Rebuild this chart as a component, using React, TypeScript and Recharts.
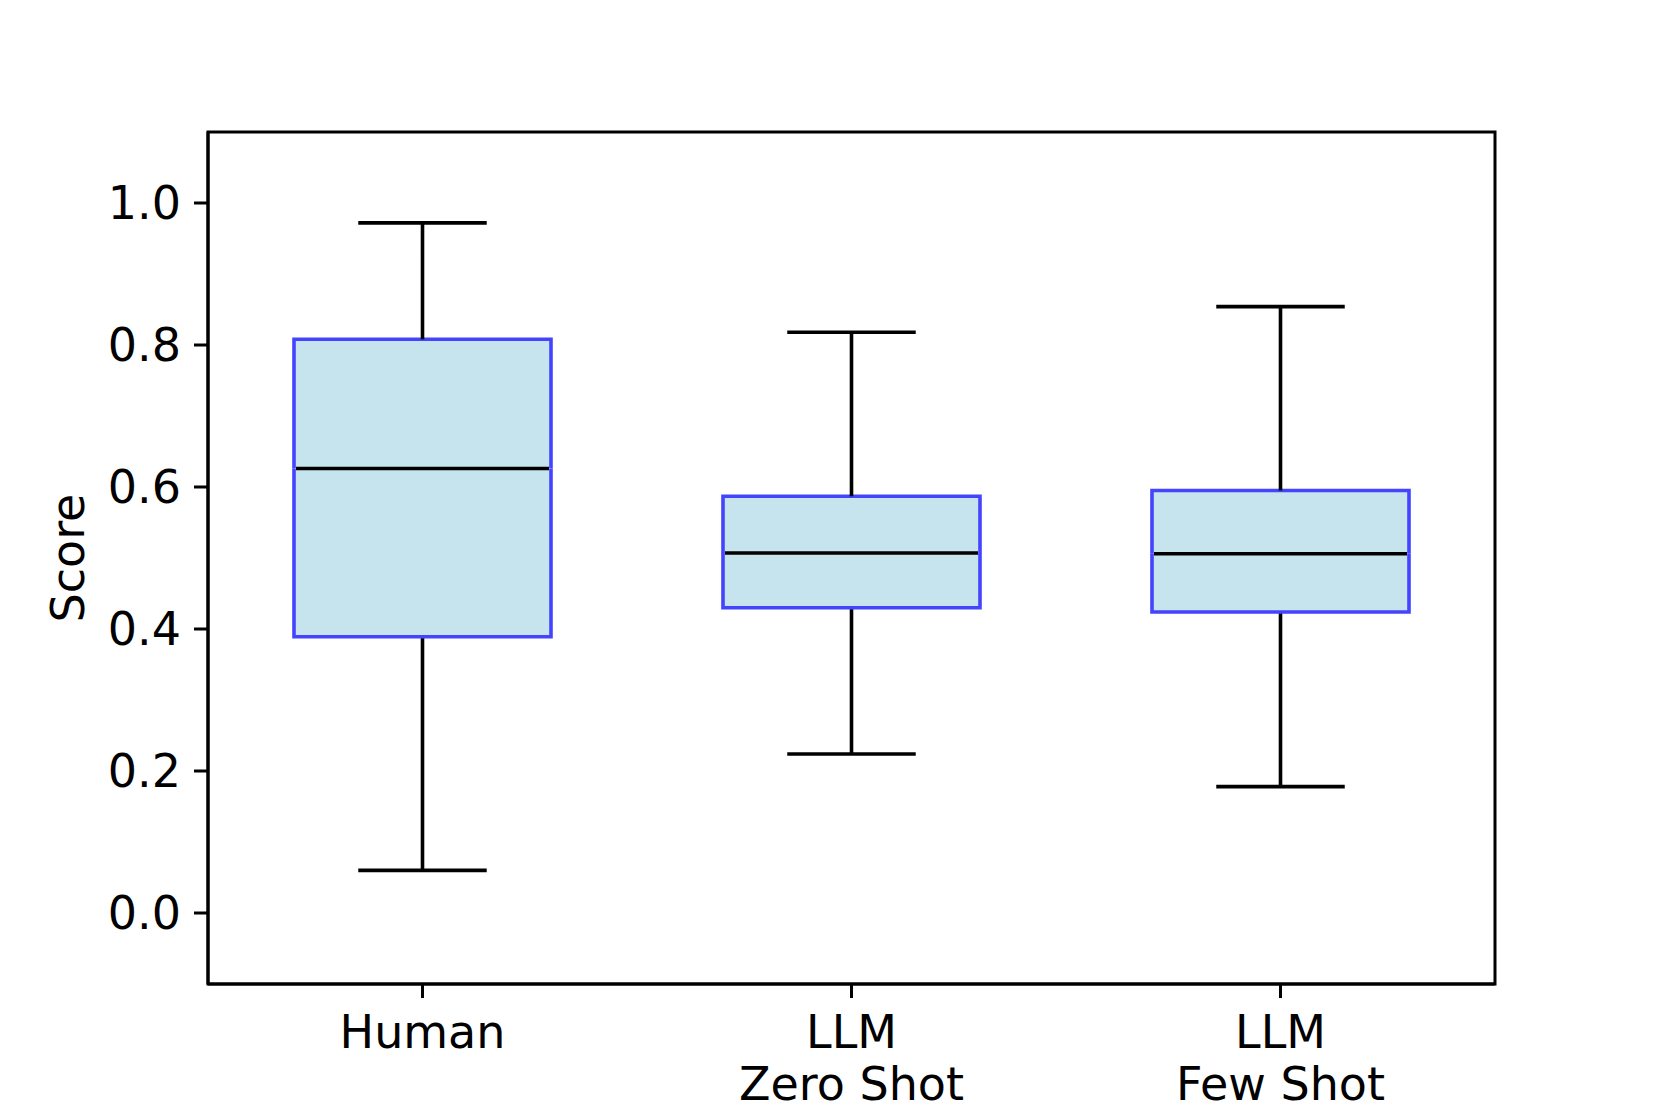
import React from 'react';
import { ComposedChart, Bar, XAxis, YAxis, Label, ReferenceArea } from 'recharts';

// box statistics
const categories = ['Human', 'LLM\nZero Shot', 'LLM\nFew Shot'];
const whiskerLow = [0.06, 0.224, 0.178];
const q1 = [0.389, 0.43, 0.424];
const median = [0.626, 0.507, 0.506];
const q3 = [0.808, 0.587, 0.595];
const whiskerHigh = [0.972, 0.818, 0.854];
const yTicks = [0, 0.2, 0.4, 0.6, 0.8, 1.0];
const yDomain = [-0.1, 1.1];

const data = categories.map((name, i) => ({
   name,
   base: whiskerLow[i],
   lowWhisker: q1[i] - whiskerLow[i],
   lowBox: median[i] - q1[i],
   highBox: q3[i] - median[i],
   highWhisker: whiskerHigh[i] - q3[i],
}));

const FONT = '"DejaVu Sans", sans-serif';
const EDGE = '#4444ff';
const FILL = '#c6e4ee';
const LW = 3.6;

const LowWhisker = ({ x, y, width, height }: any) => {
   const cx = x + width / 2;
   return (
      <g>
         <line x1={cx} x2={cx} y1={y} y2={y + height} stroke="#000" strokeWidth={LW} />
         <line x1={cx - width / 4} x2={cx + width / 4} y1={y + height} y2={y + height} stroke="#000" strokeWidth={LW} />
      </g>
   );
};

const HighWhisker = ({ x, y, width, height }: any) => {
   const cx = x + width / 2;
   return (
      <g>
         <line x1={cx} x2={cx} y1={y} y2={y + height} stroke="#000" strokeWidth={LW} />
         <line x1={cx - width / 4} x2={cx + width / 4} y1={y} y2={y} stroke="#000" strokeWidth={LW} />
      </g>
   );
};

const LowBox = ({ x, y, width, height }: any) => (
   <g>
      <rect x={x} y={y} width={width} height={height} fill={FILL} />
      <path d={`M${x},${y} L${x},${y + height} L${x + width},${y + height} L${x + width},${y}`} fill="none" stroke={EDGE} strokeWidth={LW} />
   </g>
);

const HighBox = ({ x, y, width, height }: any) => (
   <g>
      <rect x={x} y={y} width={width} height={height} fill={FILL} />
      <path d={`M${x},${y + height} L${x},${y} L${x + width},${y} L${x + width},${y + height}`} fill="none" stroke={EDGE} strokeWidth={LW} />
      <line x1={x + 2} x2={x + width - 2} y1={y + height} y2={y + height} stroke="#000" strokeWidth={LW} />
   </g>
);

const XTick = ({ x, y, payload }: any) => {
   const lines = String(payload.value).split('\n');
   return (
      <text x={x} y={y} textAnchor="middle" fontFamily={FONT} fontSize={46} fill="#000">
         {lines.map((l, i) => (
            <tspan key={i} x={x} dy={i === 0 ? 50 : 52}>{l}</tspan>
         ))}
      </text>
   );
};

export default function App() {
   return (
      <div style={{ position: 'absolute', left: 0, top: 0, background: '#fff' }}>
         <ComposedChart
            width={1661}
            height={1107}
            data={data}
            margin={{ top: 132, right: 166, bottom: 0, left: 0 }}
         >
            <XAxis
               dataKey="name"
               height={123}
               tick={<XTick />}
               tickSize={14}
               tickMargin={0}
               tickLine={{ stroke: '#000', strokeWidth: 3 }}
               axisLine={{ stroke: '#000', strokeWidth: 3 }}
               interval={0}
            />
            <YAxis
               type="number"
               domain={yDomain}
               allowDataOverflow
               ticks={yTicks}
               tickFormatter={(v: number) => v.toFixed(1)}
               width={208}
               tickSize={14}
               tickMargin={13}
               tick={{ fill: '#000', fontSize: 46, fontFamily: FONT }}
               tickLine={{ stroke: '#000', strokeWidth: 3 }}
               axisLine={{ stroke: '#000', strokeWidth: 3 }}
            >
               <Label
                  content={({ viewBox }: any) => {
                     const cy = viewBox.y + viewBox.height / 2;
                     return (
                        <text
                           x={84}
                           y={cy}
                           transform={`rotate(-90, 84, ${cy})`}
                           textAnchor="middle"
                           fontFamily={FONT}
                           fontSize={46}
                           fill="#000"
                        >
                           Score
                        </text>
                     );
                  }}
               />
            </YAxis>
            <Bar dataKey="base" stackId="box" barSize={257} fill="transparent" isAnimationActive={false} />
            <Bar dataKey="lowWhisker" stackId="box" barSize={257} shape={(p: any) => <LowWhisker {...p} />} isAnimationActive={false} />
            <Bar dataKey="lowBox" stackId="box" barSize={257} shape={(p: any) => <LowBox {...p} />} isAnimationActive={false} />
            <Bar dataKey="highBox" stackId="box" barSize={257} shape={(p: any) => <HighBox {...p} />} isAnimationActive={false} />
            <Bar dataKey="highWhisker" stackId="box" barSize={257} shape={(p: any) => <HighWhisker {...p} />} isAnimationActive={false} />
            {/* plot frame */}
            <ReferenceArea
               y1={yDomain[0]}
               y2={yDomain[1]}
               fill="none"
               fillOpacity={0}
               stroke="#000"
               strokeWidth={3}
               ifOverflow="visible"
            />
         </ComposedChart>
      </div>
   );
}
